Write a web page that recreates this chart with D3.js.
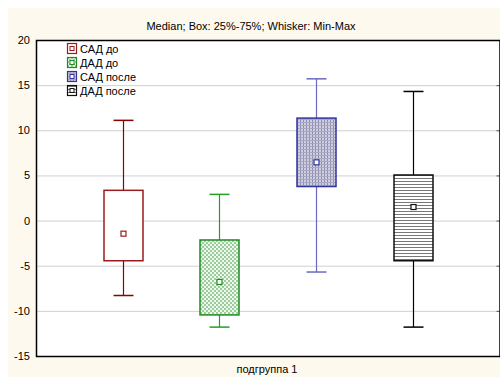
<!DOCTYPE html>
<html>
<head>
<meta charset="utf-8">
<script src="https://cdn.jsdelivr.net/npm/d3@7"></script>
<style>
  body { margin: 0; background: #fff; }
  text { font-family: "Liberation Sans", Arial, sans-serif; fill: #000; }
</style>
</head>
<body>
<svg id="chart" width="500" height="379"></svg>
<script>
// series and values
const seriesNames = ["САД до", "ДАД до", "САД после", "ДАД после"];
const minVals    = [-8.3, -11.8, -5.7, -11.8];
const q1Vals     = [-4.45, -10.45, 3.77, -4.45];
const medianVals = [-1.45, -6.8, 6.45, 1.5];
const q3Vals     = [3.35, -2.15, 11.35, 5.05];
const maxVals    = [11.1, 2.9, 15.7, 14.3];
const yTicks = [-15, -10, -5, 0, 5, 10, 15, 20];
const groupLabel = "подгруппа 1";
const titleText = "Median; Box: 25%-75%; Whisker: Min-Max";

const colors = ["#9b1c1c", "#1e8c1e", "#3232a0", "#111111"];
const whiskerColors = ["#8b0000", "#22a022", "#6a6ac0", "#000000"];

const svg = d3.select("#chart");
const W = 500, H = 379;
const plot = { left: 36, top: 40, right: 499.5, bottom: 356 };

// cream frame
svg.append("rect").attr("x", 8).attr("y", 8).attr("width", W - 8).attr("height", H - 10)
    .attr("fill", "#fdf9ee");

// patterns for box fills
const defs = svg.append("defs");
// green checker
let pg = defs.append("pattern").attr("id", "pat1").attr("patternUnits", "userSpaceOnUse")
    .attr("width", 4).attr("height", 4);
pg.append("rect").attr("width", 4).attr("height", 4).attr("fill", "#eef7ee");
pg.append("rect").attr("x", 0).attr("y", 0).attr("width", 2).attr("height", 2).attr("fill", "#9ccc9c");
pg.append("rect").attr("x", 2).attr("y", 2).attr("width", 2).attr("height", 2).attr("fill", "#9ccc9c");
// blue texture
let pb = defs.append("pattern").attr("id", "pat2").attr("patternUnits", "userSpaceOnUse")
    .attr("width", 3).attr("height", 3);
pb.append("rect").attr("width", 3).attr("height", 3).attr("fill", "#cfcfe0");
pb.append("rect").attr("x", 0).attr("y", 0).attr("width", 1).attr("height", 3).attr("fill", "#8e8eb0");
pb.append("rect").attr("x", 0).attr("y", 2).attr("width", 3).attr("height", 1).attr("fill", "#a8a8c4");
// black horizontal lines
let pk = defs.append("pattern").attr("id", "pat3").attr("patternUnits", "userSpaceOnUse")
    .attr("width", 4).attr("height", 3);
pk.append("rect").attr("width", 4).attr("height", 3).attr("fill", "#ffffff");
pk.append("rect").attr("x", 0).attr("y", 1).attr("width", 4).attr("height", 1).attr("fill", "#777");
const fills = ["#ffffff", "url(#pat1)", "url(#pat2)", "url(#pat3)"];

// plot area
svg.append("rect").attr("x", plot.left).attr("y", plot.top)
    .attr("width", plot.right - plot.left).attr("height", plot.bottom - plot.top)
    .attr("fill", "#fff");

const y = d3.scaleLinear().domain([-15, 20]).range([plot.bottom, plot.top]);
const x = d3.scaleBand().domain(seriesNames).range([plot.left, plot.right])
    .paddingInner(0).paddingOuter(0.4);

// grid lines
svg.append("g").selectAll("line")
    .data(yTicks.filter(d => d > -15 && d < 20))
    .enter().append("line")
    .attr("x1", plot.left).attr("x2", plot.right)
    .attr("y1", d => y(d) + 0.5).attr("y2", d => y(d) + 0.5)
    .attr("stroke", "#d0d0d0").attr("stroke-width", 1);

// right ticks
svg.append("g").attr("transform", "translate(" + plot.right + ",0)")
    .call(d3.axisLeft(y).tickValues(yTicks).tickSize(3).tickFormat(""))
    .call(g => g.select(".domain").remove())
    .selectAll("line").attr("stroke", "#555");

// left axis
const yAxis = svg.append("g").attr("transform", "translate(" + plot.left + ",0)")
    .call(d3.axisLeft(y).tickValues(yTicks).tickSize(0).tickPadding(6)
        .tickFormat(d => String(d)));
yAxis.select(".domain").remove();
yAxis.selectAll("text").style("font-size", "11px").attr("fill", "#000");

// frame lines
svg.append("rect").attr("x", plot.left + 0.5).attr("y", plot.top + 0.5)
    .attr("width", plot.right - plot.left).attr("height", plot.bottom - plot.top)
    .attr("fill", "none").attr("stroke", "#000").attr("stroke-width", 1.5);

// boxes
const boxW = 39, capW = 20;
seriesNames.forEach((name, i) => {
    const cx = Math.round(x(name) + x.bandwidth() / 2) + 0.5;
    const g = svg.append("g");
    // whiskers
    g.append("line").attr("x1", cx).attr("x2", cx)
        .attr("y1", y(maxVals[i])).attr("y2", y(q3Vals[i]))
        .attr("stroke", whiskerColors[i]).attr("stroke-width", 1.2);
    g.append("line").attr("x1", cx).attr("x2", cx)
        .attr("y1", y(q1Vals[i])).attr("y2", y(minVals[i]))
        .attr("stroke", whiskerColors[i]).attr("stroke-width", 1.2);
    [maxVals[i], minVals[i]].forEach(v => {
        g.append("line").attr("x1", cx - capW / 2).attr("x2", cx + capW / 2)
            .attr("y1", y(v)).attr("y2", y(v))
            .attr("stroke", whiskerColors[i]).attr("stroke-width", 1.5);
    });
    // box
    g.append("rect").attr("x", cx - boxW / 2).attr("y", y(q3Vals[i]))
        .attr("width", boxW).attr("height", y(q1Vals[i]) - y(q3Vals[i]))
        .attr("fill", fills[i]).attr("stroke", colors[i]).attr("stroke-width", 1.5);
    // median marker
    g.append("rect").attr("x", cx - 2.5).attr("y", y(medianVals[i]) - 2.5)
        .attr("width", 5).attr("height", 5)
        .attr("fill", "#fff").attr("stroke", colors[i]).attr("stroke-width", 1.2);
});

// legend
const leg = svg.append("g").attr("transform", "translate(67,43)");
seriesNames.forEach((name, i) => {
    const row = leg.append("g").attr("transform", "translate(0," + (i * 14) + ")");
    row.append("rect").attr("x", 0.5).attr("y", 0.5).attr("width", 9).attr("height", 10)
        .attr("fill", fills[i]).attr("stroke", colors[i]).attr("stroke-width", 1.2);
    row.append("rect").attr("x", 3).attr("y", 3.5).attr("width", 4).attr("height", 4)
        .attr("fill", "#fff").attr("stroke", colors[i]).attr("stroke-width", 1);
    row.append("text").attr("x", 13).attr("y", 9.5)
        .style("font-size", "11px").text(name);
});

// title and x label
svg.append("text").attr("x", 251).attr("y", 30).attr("text-anchor", "middle")
    .style("font-size", "11px").text(titleText);
svg.append("text").attr("x", 267).attr("y", 373).attr("text-anchor", "middle")
    .style("font-size", "11px").text(groupLabel);
</script>
</body>
</html>
